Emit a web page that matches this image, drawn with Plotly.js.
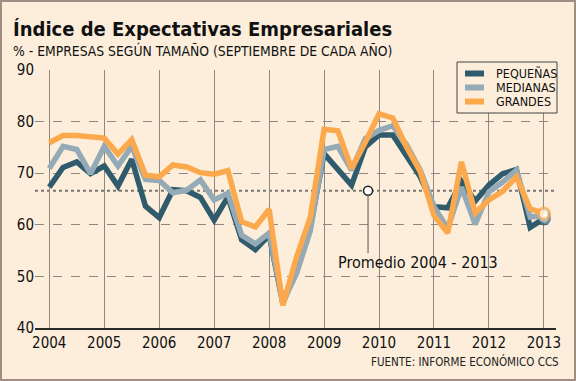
<!DOCTYPE html>
<html>
<head>
<meta charset="utf-8">
<script src="https://cdn.plot.ly/plotly-3.0.1.min.js"></script>
<style>
html,body{margin:0;padding:0;background:#FCEEDB;}
#wrap{position:relative;width:576px;height:381px;}
#chart{width:576px;height:381px;}
#frame{position:absolute;left:0;top:0;width:576px;height:381px;box-sizing:border-box;border:2px solid #A08E84;pointer-events:none;}
</style>
</head>
<body>
<div id="wrap"><div id="chart"></div><div id="frame"></div></div>
<script>
// Quarterly periods 2004.00 ... 2013.00
const periods = [2004.00,2004.25,2004.50,2004.75,2005.00,2005.25,2005.50,2005.75,
  2006.00,2006.25,2006.50,2006.75,2007.00,2007.25,2007.50,2007.75,
  2008.00,2008.25,2008.50,2008.75,2009.00,2009.25,2009.50,2009.75,
  2010.00,2010.25,2010.50,2010.75,2011.00,2011.25,2011.50,2011.75,
  2012.00,2012.25,2012.50,2012.75,2013.00];
const pequenas = [67.3,71.1,72.2,69.9,71.4,67.5,72.7,63.6,
  61.4,66.8,66.6,65.3,60.9,65.4,57.1,55.2,
  58.0,44.8,51.5,59.6,73.8,70.9,67.7,75.1,
  77.4,77.4,73.5,69.3,63.5,63.3,68.4,64.6,
  67.7,69.9,70.7,59.5,61.2];
const medianas = [70.9,75.2,74.6,69.9,75.2,71.4,75.2,68.8,
  68.6,66.2,66.7,68.7,64.8,66.1,58.0,56.3,
  58.4,45.0,50.6,58.9,74.6,75.2,70.6,76.7,
  78.3,79.2,75.5,70.6,63.5,59.3,67.3,60.1,
  66.4,68.3,70.6,61.5,61.8];
const grandes = [75.9,77.3,77.3,77.0,76.8,73.7,76.5,69.6,
  69.3,71.6,71.2,70.1,69.8,70.5,60.6,59.6,
  63.0,44.4,53.8,61.5,78.5,78.2,70.9,76.0,
  81.5,80.7,75.1,70.3,61.8,58.4,72.2,62.3,
  64.8,66.5,69.3,63.1,62.2];
const seriesNames = ['PEQUEÑAS','MEDIANAS','GRANDES'];
const yearTicks = [2004,2005,2006,2007,2008,2009,2010,2011,2012,2013];
const yTicks = [40,50,60,70,80,90];
const promedio = 66.6;
const promedioX = 2009.8;
const promedioLabel = 'Promedio 2004 - 2013';
const titleText = 'Índice de Expectativas Empresariales';
const subtitleText = '% - EMPRESAS SEGÚN TAMAÑO (SEPTIEMBRE DE CADA AÑO)';
const sourceText = 'FUENTE: INFORME ECONÓMICO CCS';

const colors = ['#2F5B6D','#94AAB6','#FBA94C'];
const FONT = '"DejaVu Sans Condensed","Liberation Sans Narrow","DejaVu Sans",sans-serif';
const allSeries = [pequenas, medianas, grandes];

const traces = allSeries.map((vals,i)=>({
  type:'scatter', mode:'lines+markers', x:periods, y:vals, name:seriesNames[i],
  line:{color:colors[i], width:5.5, shape:'linear'},
  marker:{size:vals.map((v,k)=>k===vals.length-1?11:0), color:'#FFFFFF',
          line:{color:colors[i], width:3}},
  showlegend:false, hoverinfo:'skip', cliponaxis:false
}));
// promedio marker
traces.push({type:'scatter', mode:'markers', x:[promedioX], y:[promedio],
  marker:{size:9, color:'#FFFFFF', line:{color:'#222', width:1.5}},
  showlegend:false, hoverinfo:'skip'});

// paper coordinate helpers (plot area: x 35..556, y 70..328)
const px = x => (x-35)/521;
const py = y => (328-y)/258;

const shapes = [
  {type:'line', xref:'paper', yref:'y', x0:0, x1:1, y0:promedio, y1:promedio,
   line:{color:'#7A7571', width:2.2, dash:'dot'}, layer:'below'},
  {type:'line', xref:'x', yref:'y', x0:promedioX, x1:promedioX, y0:54.5, y1:promedio-0.8,
   line:{color:'#555', width:1}},
  {type:'rect', xref:'paper', yref:'paper', x0:px(457), x1:px(557), y0:py(113), y1:py(62),
   fillcolor:'#FCEEDB', line:{color:'#444', width:1}}
];
const rowsY = [73.5, 87.5, 101.5];
const annotations = [
  {xref:'paper', yref:'paper', x:px(11), y:py(29), xanchor:'left', yanchor:'middle',
   text:'<b>'+titleText+'</b>', showarrow:false, font:{family:FONT, size:20, color:'#111'}},
  {xref:'paper', yref:'paper', x:px(11), y:py(50), xanchor:'left', yanchor:'middle',
   text:subtitleText, showarrow:false, font:{family:FONT, size:13.8, color:'#111'}},
  {xref:'paper', yref:'paper', x:px(561), y:py(361), xanchor:'right', yanchor:'middle',
   text:sourceText, showarrow:false, font:{family:FONT, size:11.5, color:'#222'}},
  {xref:'x', yref:'y', x:2009.22, y:52.6, xanchor:'left', yanchor:'middle',
   text:promedioLabel, showarrow:false, font:{family:FONT, size:16, color:'#111'}}
];
seriesNames.forEach((n,i)=>{
  shapes.push({type:'line', xref:'paper', yref:'paper', x0:px(465), x1:px(484),
    y0:py(rowsY[i]), y1:py(rowsY[i]), line:{color:colors[i], width:6}});
  annotations.push({xref:'paper', yref:'paper', x:px(494), y:py(rowsY[i]), xanchor:'left',
    yanchor:'middle', text:n, showarrow:false, font:{family:FONT, size:12.5, color:'#111'}});
});

const layout = {
  width:576, height:381,
  paper_bgcolor:'#FCEEDB', plot_bgcolor:'#FCEEDB',
  margin:{l:35, r:20, t:70, b:53, pad:0},
  showlegend:false,
  font:{family:FONT, color:'#111'},
  xaxis:{range:[2003.74,2013.22], tickvals:yearTicks, ticktext:yearTicks.map(String),
    showgrid:true, gridcolor:'#8E8782', gridwidth:1, zeroline:false,
    showline:true, linecolor:'#2A2A2A', linewidth:2, ticks:'', ticklen:0,
    tickfont:{family:FONT, size:15, color:'#111'}, fixedrange:true},
  yaxis:{range:[40,90], tickvals:yTicks, showgrid:true, gridcolor:'#8E8782', gridwidth:1,
    griddash:'dash', zeroline:false, showline:false, ticks:'', ticklen:0,
    tickfont:{family:FONT, size:15, color:'#111'}, fixedrange:true},
  shapes:shapes, annotations:annotations
};
Plotly.newPlot('chart', traces, layout, {displayModeBar:false, staticPlot:true});
</script>
</body>
</html>
